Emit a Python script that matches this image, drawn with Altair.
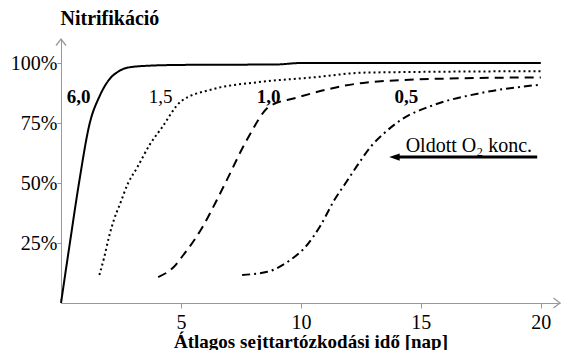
import altair as alt
import pandas as pd

# --- data ---
x_60 = [0.0, 0.37, 0.75, 1.2, 1.6, 2.0, 2.4, 2.75, 3.5, 5.0, 9.0, 10.0, 20.0]
y_60 = [0.0, 25.0, 50.0, 75.0, 86.0, 93.0, 96.5, 98.0, 98.8, 99.2, 99.4, 100.0, 100.0]

x_15 = [1.6, 1.8, 2.0, 2.2, 2.45, 2.8, 3.15, 3.7, 4.2, 5.0, 6.3, 8.2, 10.5, 12.7, 20.0]
y_15 = [11.7, 19.0, 27.5, 34.5, 41.0, 50.0, 56.0, 66.0, 73.0, 84.0, 89.0, 92.0, 94.0, 96.0, 96.6]

x_10 = [4.05, 4.7, 5.1, 5.5, 5.9, 6.5, 6.9, 7.75, 8.7, 9.8, 12.6, 16.0, 20.0]
y_10 = [10.8, 15.0, 20.0, 25.4, 31.7, 43.0, 51.0, 68.0, 82.0, 85.5, 91.7, 93.5, 94.0]

x_05 = [7.55, 8.6, 9.5, 10.2, 10.8, 11.4, 11.9, 12.4, 12.9, 13.5, 14.2, 15.4, 17.5, 20.0]
y_05 = [11.7, 13.0, 17.5, 23.5, 32.0, 43.0, 50.5, 58.0, 65.0, 71.0, 76.5, 82.0, 87.5, 91.0]

series_names = ["6,0", "1,5", "1,0", "0,5"]
series_x = [x_60, x_15, x_10, x_05]
series_y = [y_60, y_15, y_10, y_05]
series_dash = [[1, 0], [2, 3], [9, 6], [8, 4, 2, 4]]

label_text = ["6,0", "1,5", "1,0", "0,5"]
label_x = [0.73, 4.15, 8.65, 14.4]
label_y = [86.0, 86.0, 86.0, 86.0]
label_bold = [True, False, True, True]

x_ticks = [5, 10, 15, 20]
y_ticks = [25, 50, 75, 100]

note_text = "Oldott O\u2082 konc."
note_x = 17.0
note_y = 65.5
arrow_x = [19.85, 13.9]
arrow_y = 60.8

X_MAX = 20.8
Y_MAX = 110

FONT = "Liberation Serif"
GRAY = "#999999"

xscale = alt.Scale(domain=[0, X_MAX], nice=False, zero=False)
yscale = alt.Scale(domain=[0, Y_MAX], nice=False)

xaxis = alt.Axis(
    values=x_ticks, grid=False, domainColor=GRAY, tickColor=GRAY, tickSize=5,
    labelFont=FONT, labelFontSize=20, labelColor="black", labelPadding=4,
    title="Átlagos sejttartózkodási idő [nap]", titleFont=FONT, titleFontSize=19,
    titleFontWeight="bold", titleColor="black", titleY=38, titleBaseline="middle",
)
yaxis = alt.Axis(
    values=y_ticks, grid=False, domainColor=GRAY, tickColor=GRAY, tickSize=4,
    labelFont=FONT, labelFontSize=20, labelColor="black", labelPadding=0,
    labelExpr="datum.value + '%'",
    title="Nitrifikáció", titleFont=FONT, titleFontSize=20, titleFontWeight="bold",
    titleColor="black", titleAngle=0, titleAlign="left", titleX=-1, titleY=-21,
    titleBaseline="middle",
)

X = alt.X("x:Q", scale=xscale, axis=xaxis)
Y = alt.Y("y:Q", scale=yscale, axis=yaxis)

layers = []
for i, (name, xs, ys, dash) in enumerate(zip(series_names, series_x, series_y, series_dash)):
    df = pd.DataFrame({"x": xs, "y": ys, "i": list(range(len(xs)))})
    line = alt.Chart(df).mark_line(
        interpolate="monotone", color="black", strokeWidth=2, strokeDash=dash
    ).encode(x=X, y=Y, order="i:Q")
    layers.append(line)

lab_df = pd.DataFrame({"x": label_x, "y": label_y, "t": label_text, "b": label_bold})
for bold in [True, False]:
    sub = lab_df[lab_df["b"] == bold]
    layers.append(
        alt.Chart(sub).mark_text(
            font=FONT, fontSize=19, fontWeight="bold" if bold else "normal", color="black"
        ).encode(x=X, y=Y, text="t:N")
    )

note_df = pd.DataFrame({"x": [note_x], "y": [note_y], "t": [note_text]})
layers.append(
    alt.Chart(note_df).mark_text(font=FONT, fontSize=20, color="black").encode(
        x=X, y=Y, text="t:N"
    )
)

arr_df = pd.DataFrame({"x": [arrow_x[0]], "x2": [arrow_x[1]], "y": [arrow_y]})
layers.append(
    alt.Chart(arr_df).mark_rule(color="black", strokeWidth=3).encode(
        x=X, x2="x2:Q", y=Y
    )
)
head_df = pd.DataFrame({"x": [arrow_x[1]], "y": [arrow_y]})
layers.append(
    alt.Chart(head_df).mark_point(
        shape="M1,-0.7L-1,0L1,0.7Z", filled=True, color="black", size=110, opacity=1
    ).encode(x=X, y=Y)
)

# axis arrow heads
up_df = pd.DataFrame({"x": [0.0], "y": [float(Y_MAX)]})
layers.append(
    alt.Chart(up_df).mark_point(
        shape="M-1,1.3L0,0L1,1.3", filled=False, color=GRAY, size=100, strokeWidth=1.3, opacity=1
    ).encode(x=X, y=Y)
)
right_df = pd.DataFrame({"x": [X_MAX], "y": [0.0]})
layers.append(
    alt.Chart(right_df).mark_point(
        shape="M-1.3,-1L0,0L-1.3,1", filled=False, color=GRAY, size=100, strokeWidth=1.3, opacity=1
    ).encode(x=X, y=Y)
)

chart = alt.layer(*layers).properties(
    width=499,
    height=264,
    padding={"left": 53, "top": 31, "right": 1, "bottom": 47},
    autosize=alt.AutoSizeParams(type="none"),
).configure(font=FONT).configure_axis(
    labelFont=FONT, titleFont=FONT
).configure_text(font=FONT).configure_view(strokeWidth=0)

chart.save("out.html", embed_options={"renderer": "svg", "actions": False})
